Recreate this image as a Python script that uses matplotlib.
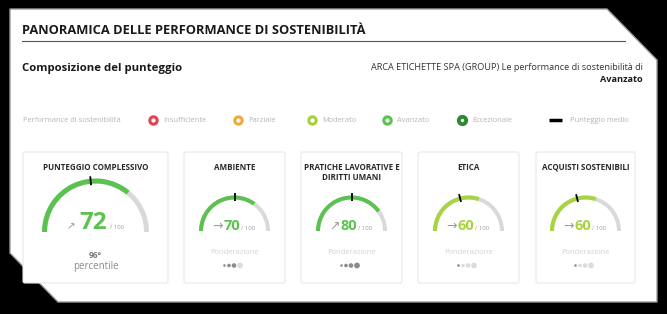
import matplotlib
matplotlib.use("Agg")
import matplotlib.pyplot as plt
from matplotlib.patches import Polygon, Wedge, FancyBboxPatch, Circle
import numpy as np

# ---------------- data ----------------
title = "PANORAMICA DELLE PERFORMANCE DI SOSTENIBILITÀ"
subtitle = "Composizione del punteggio"
company_text = "ARCA ETICHETTE SPA (GROUP) Le performance di sostenibilità di"
company_level = "Avanzato"

legend_title = "Performance di sostenibilità"
legend_labels = ["Insufficiente", "Parziale", "Moderato", "Avanzato", "Eccezionale"]
legend_colors = ["#e5434b", "#f2a93b", "#a6d13c", "#5cc24f", "#2e8a2e"]
avg_label = "Punteggio medio"

categories = ["PUNTEGGIO COMPLESSIVO", "AMBIENTE", "PRATICHE LAVORATIVE E\nDIRITTI UMANI",
              "ETICA", "ACQUISTI SOSTENIBILI"]
scores = [72, 70, 80, 60, 60]
avg_scores = [47, 50, 50, 42, 42]
trends = ["↗", "→", "↗", "→", "→"]
levels = ["Avanzato", "Avanzato", "Avanzato", "Moderato", "Moderato"]
weights = [0, 3, 4, 1, 1]
percentile_text = "96°"
percentile_label = "percentile"
weight_label = "Ponderazione"
max_score = 100

# ---------------- figure ----------------
W, H = 667, 314
fig = plt.figure(figsize=(W / 100, H / 100), dpi=100)
fig.patch.set_facecolor("black")
ax = fig.add_axes([0, 0, 1, 1])
ax.set_xlim(0, W)
ax.set_ylim(0, H)
ax.axis("off")

def Y(y):
    return H - y

FONT = ["Open Sans", "DejaVu Sans"]

# white panel with cut corners
pts = [(10, 9), (607, 9), (657, 60), (657, 302), (58, 302), (10, 253)]
ax.add_patch(Polygon([(x, Y(y)) for x, y in pts], closed=True,
                     facecolor="white", edgecolor="#9a9a9a", lw=1.0, zorder=0))

# header
ax.text(22, Y(31), title, family=FONT, fontsize=9.3, fontweight="bold",
        color="#1a1a1a", va="center", ha="left")
ax.plot([22, 625], [Y(41), Y(41)], color="#555555", lw=0.8)
ax.text(22, Y(69), subtitle, family=FONT, fontsize=8.2, fontweight="bold",
        color="#1a1a1a", va="center", ha="left")
ax.text(643, Y(67), company_text, family=FONT, fontsize=6.6, color="#333333",
        va="center", ha="right")
ax.text(643, Y(80), company_level, family=FONT, fontsize=6.6, fontweight="bold",
        color="#1a1a1a", va="center", ha="right")

# legend
ly = Y(120)
lgray = "#b5b5b5"
ax.text(23, ly, legend_title, family=FONT, fontsize=5.4, color=lgray, va="center")
leg_x = [153, 238, 312, 387, 462]
for i, (lab, col) in enumerate(zip(legend_labels, legend_colors)):
    lw = 2.8 if lab == "Eccezionale" else 2.2
    ax.scatter([leg_x[i]], [ly], s=28, facecolor="white", edgecolor=col,
               linewidth=lw, zorder=5)
    ax.text(leg_x[i] + 10, ly, lab, family=FONT, fontsize=5.4, color=lgray, va="center")
ax.plot([549, 562], [ly, ly], color="black", lw=2.5, solid_capstyle="butt")
ax.text(570, ly, avg_label, family=FONT, fontsize=5.4, color=lgray, va="center")

# cards
cards = [(23, 168), (184, 285), (301, 402), (418, 519), (536, 635)]
level_color = {"Avanzato": "#5cc24f", "Moderato": "#a8d441"}
track = "#d9d9d9"

for i, (x0, x1) in enumerate(cards):
    cx = (x0 + x1) / 2
    ax.add_patch(FancyBboxPatch((x0, Y(283)), x1 - x0, 283 - 152,
                                boxstyle="round,pad=0,rounding_size=2",
                                facecolor="white", edgecolor="#e8e8e8", lw=0.8))
    big = (i == 0)
    lines = categories[i].split("\n")
    for j, ln in enumerate(lines):
        ax.text(cx, Y(167 + 11 * j), ln, family=FONT, fontsize=5.8, fontweight="bold",
                color="#2a2a2a", ha="center", va="center")

    col = level_color[levels[i]]
    if big:
        gcy, r, w = 232, 53.5, 5.0
    else:
        gcy, r, w = 231, 35.5, 4.0
    c = (cx, Y(gcy))
    ax.add_patch(Wedge(c, r, 0, 180, width=w, facecolor=track, edgecolor="none"))
    ax.add_patch(Wedge(c, r, 180 - 180 * scores[i] / max_score, 180, width=w,
                       facecolor=col, edgecolor="none"))
    ang = np.deg2rad(180 - 180 * avg_scores[i] / max_score)
    r_in, r_out = r - w - 1.5, r + 2.5
    ax.plot([c[0] + r_in * np.cos(ang), c[0] + r_out * np.cos(ang)],
            [c[1] + r_in * np.sin(ang), c[1] + r_out * np.sin(ang)],
            color="black", lw=1.3, solid_capstyle="butt", zorder=6)

    # score text
    if big:
        base = Y(229)
        ax.text(cx - 2, base, str(scores[i]), family=FONT, fontsize=17.5, fontweight="bold",
                color=col, ha="center", va="baseline")
        ax.text(cx - 20, base, trends[i], family=FONT, fontsize=7.5, color="#9a9a9a",
                ha="right", va="baseline")
        ax.text(cx + 14, base, "/ 100", family=FONT, fontsize=4.3, color="#9a9a9a",
                ha="left", va="baseline")
        ax.text(cx, Y(255), percentile_text, family=FONT, fontsize=6, fontweight="bold",
                color="#7a7a7a", ha="center", va="center")
        ax.text(cx, Y(266), percentile_label, family=FONT, fontsize=7, color="#8a8a8a",
                ha="center", va="center")
    else:
        base = Y(230)
        ax.text(cx - 2.5, base, str(scores[i]), family=FONT, fontsize=10.5,
                fontweight="bold", color=col, ha="center", va="baseline")
        ax.text(cx - 11.5, base, trends[i], family=FONT, fontsize=9, color="#9a9a9a",
                ha="right", va="baseline")
        ax.text(cx + 6.5, base, "/ 100", family=FONT, fontsize=4.3, color="#9a9a9a",
                ha="left", va="baseline")
        ax.text(cx, Y(253), weight_label, family=FONT, fontsize=5.5, color="#d2d2d2",
                ha="center", va="center")
        offs = [-10, -5.5, -0.5, 5.5]
        sizes = [1.3, 1.8, 2.3, 2.9]
        for k in range(4):
            dcol = "#8c8c8c" if k < weights[i] else "#dcdcdc"
            ax.add_patch(Circle((cx + offs[k], Y(265.5)), sizes[k],
                                facecolor=dcol, edgecolor="none"))

fig.savefig("out.png", dpi=100, facecolor="black")
